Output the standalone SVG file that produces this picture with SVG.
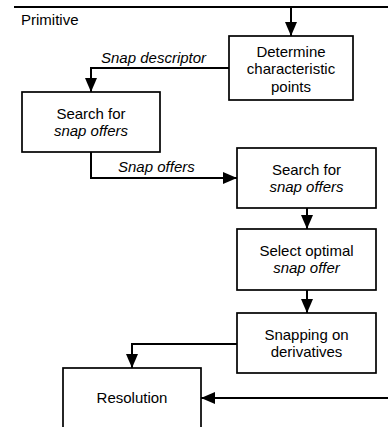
<svg xmlns="http://www.w3.org/2000/svg" width="388" height="427" viewBox="0 0 388 427">
<style>
.box{fill:#fff;stroke:#000;stroke-width:1.7}
.t{font-family:"Liberation Sans",Arial,sans-serif;font-size:15px;fill:#000;text-anchor:middle}
.l{font-family:"Liberation Sans",Arial,sans-serif;font-size:15px;fill:#000}
.i{font-style:italic}
.c{fill:none;stroke:#000;stroke-width:2}
</style>
<defs>
<marker id="ah" markerUnits="userSpaceOnUse" markerWidth="14" markerHeight="12" refX="14" refY="6" orient="auto">
<path d="M0,0 L14,6 L0,12 z" fill="#000"/>
</marker>
</defs>
<rect width="388" height="427" fill="#fff"/>
<g id="connectors">
<path class="c" d="M14,7 H388" stroke-width="2.6"/>
<path class="c" d="M291,7 V36" marker-end="url(#ah)"/>
<path class="c" d="M229,68 H91 V92" marker-end="url(#ah)"/>
<path class="c" d="M91,152 V178 H237" marker-end="url(#ah)"/>
<path class="c" d="M307,208 V229" marker-end="url(#ah)"/>
<path class="c" d="M307,290 V313" marker-end="url(#ah)"/>
<path class="c" d="M237,344 H132 V368" marker-end="url(#ah)"/>
<path class="c" d="M388,398 H201" marker-end="url(#ah)"/>
<text class="l i" x="101" y="63">Snap descriptor</text>
<text class="l i" x="118" y="172">Snap offers</text>
</g>
<g id="primitive">
<text class="l" x="21" y="25">Primitive</text>
</g>
<g id="determine">
<rect class="box" x="229" y="36" width="124" height="64"/>
<text class="t" x="291" y="56.5">Determine</text>
<text class="t" x="291" y="74">characteristic</text>
<text class="t" x="291" y="91.5">points</text>
</g>
<g id="search1">
<rect class="box" x="22" y="92" width="138" height="60"/>
<text class="t" x="91" y="119">Search for</text>
<text class="t i" x="91" y="136">snap offers</text>
</g>
<g id="search2">
<rect class="box" x="237" y="148" width="139" height="60"/>
<text class="t" x="306.5" y="175">Search for</text>
<text class="t i" x="306.5" y="192">snap offers</text>
</g>
<g id="select">
<rect class="box" x="237" y="229" width="139" height="61"/>
<text class="t" x="306.5" y="255.5">Select optimal</text>
<text class="t i" x="306.5" y="272.5">snap offer</text>
</g>
<g id="snapping">
<rect class="box" x="237" y="313" width="139" height="60"/>
<text class="t" x="306.5" y="340">Snapping on</text>
<text class="t" x="306.5" y="357">derivatives</text>
</g>
<g id="resolution">
<rect class="box" x="63" y="368" width="138" height="70"/>
<text class="t" x="132" y="403">Resolution</text>
</g>
</svg>
